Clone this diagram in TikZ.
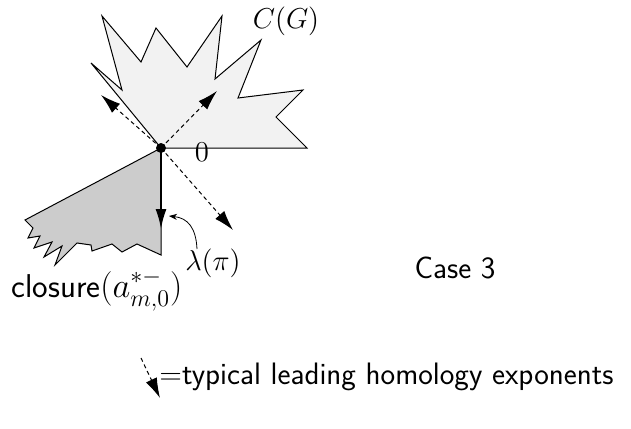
\documentclass[tikz,border=0pt]{standalone}
\usepackage{amsmath}
\usepackage{tikz}
\usetikzlibrary{arrows.meta,positioning}

\begin{document}
\begin{tikzpicture}[
    x=0.5pt, y=-0.5pt,
    cone/.style={draw, line width=0.5pt, line join=miter},
    label/.style={font=\fontsize{15}{18}\selectfont, inner sep=0pt},
    textlabel/.style={font=\sffamily\fontsize{15.5}{18}\selectfont, inner sep=0pt},
    dasharrow/.style={dash pattern=on 2pt off 1.6pt, line width=0.5pt, -{Latex[length=10pt, width=6pt]}},
    lambdaarrow/.style={line width=1pt, -{Latex[length=10pt, width=5.5pt]}}
  ]
    \useasboundingbox (0,0) rectangle (631,428);
    \coordinate (o) at (161,148);
    % the cone C(G)
    \filldraw[cone, fill=gray!10] (o) -- (307,148) -- (276,117) -- (303,90) -- (238,98) -- (261,40)
      -- (215,79) -- (222,16) -- (187,67) -- (156,28) -- (141,62) -- (102,16) -- (122,90)
      -- (91,63) -- cycle;
    % the closure
    \filldraw[cone, fill=gray!40] (o) -- (161,255) -- (137,244) -- (122,252) -- (112,244)
      -- (92,251) -- (91,245) -- (77,243) -- (55,265) -- (62,246) -- (44,257) -- (52,242)
      -- (34,248) -- (40,236) -- (28,238) -- (33,228) -- (25,220) -- cycle;
    % exponents
    \coordinate (ul) at (101,95);
    \coordinate (ur) at (217,91);
    \coordinate (lr) at (233,230);
    \coordinate (down) at (161,229);
    \draw[dasharrow] (o) -- (ul);
    \draw[dasharrow] (o) -- (ur);
    \draw[dasharrow] (o) -- (lr);
    \draw[lambdaarrow] (o) -- (down);
    \fill (o) circle (5);

    \node[label] (zero) at (202,152) {$0$};
    \node[label] (cg) at (286,21) {$C(G)$};
    \node[label] (lam) at (213,263) {$\lambda(\pi)$};
    \node[textlabel, font=\sffamily\fontsize{16.5}{19}\selectfont] (clos) at (97,290) {closure$(a^{*-}_{m,0})$};
    \node[textlabel] (case) at (455,268) {Case 3};
    \coordinate (lamtip) at (169,216);
    \draw[-{Stealth[length=4pt, width=3pt]}, line width=0.4pt] (197,249)
      .. controls (196,228) and (188,218) .. (lamtip);

    % legend
    \coordinate (ls) at (141,358);
    \coordinate (le) at (160,398);
    \draw[dasharrow] (ls) -- (le);
    \node[textlabel, anchor=west] (legend) at (159,377) {=typical leading homology exponents};
  \end{tikzpicture}
\end{document}
